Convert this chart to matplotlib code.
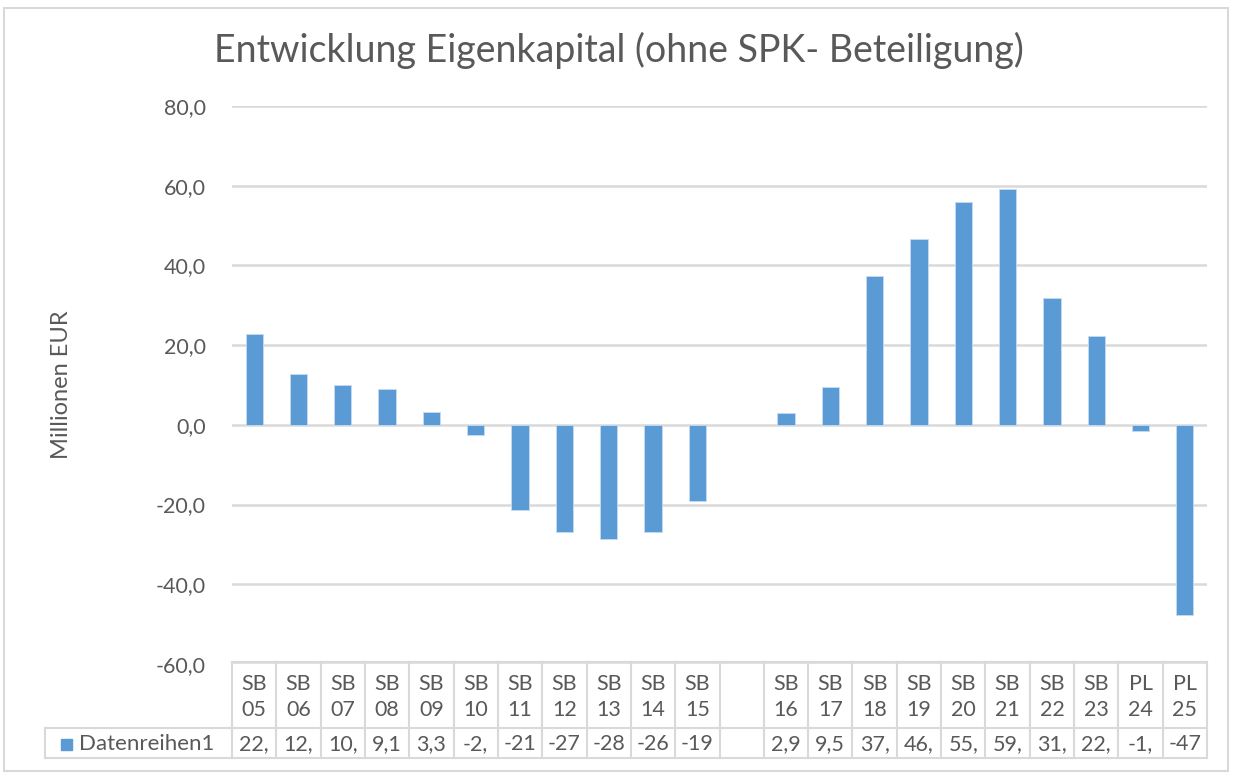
import numpy as np
import matplotlib
matplotlib.use("Agg")
import matplotlib.pyplot as plt
from matplotlib.transforms import blended_transform_factory
from matplotlib.patches import Rectangle

# ---- data ----
cat_top = ["SB", "SB", "SB", "SB", "SB", "SB", "SB", "SB", "SB", "SB", "SB", "",
           "SB", "SB", "SB", "SB", "SB", "SB", "SB", "SB", "PL", "PL"]
cat_bot = ["05", "06", "07", "08", "09", "10", "11", "12", "13", "14", "15", "",
           "16", "17", "18", "19", "20", "21", "22", "23", "24", "25"]
values = [22.9, 12.7, 10.1, 9.1, 3.3, -2.5, -21.3, -26.8, -28.7, -26.8, -19.2, np.nan,
          2.9, 9.5, 37.3, 46.7, 55.9, 59.2, 31.9, 22.3, -1.5, -47.6]
table_text = ["22,", "12,", "10,", "9,1", "3,3", "-2,", "-21", "-27", "-28", "-26", "-19", "",
              "2,9", "9,5", "37,", "46,", "55,", "59,", "31,", "22,", "-1,", "-47"]
series_name = "Datenreihen1"
yticks = [-60, -40, -20, 0, 20, 40, 60, 80]

W, H = 1233, 774
plt.rcParams['font.family'] = ['Lato', 'DejaVu Sans']
fig = plt.figure(figsize=(W / 100, H / 100), dpi=100)
txt = "#595959"
grid = "#d9d9d9"
blue = "#5b9bd5"

def fx(p): return p / W
def fy(p): return 1 - p / H

ax_l, ax_r, ax_t, ax_b = 232, 1207, 106, 664
ax = fig.add_axes([fx(ax_l), fy(ax_b), (ax_r - ax_l) / W, (ax_b - ax_t) / H])
n = len(values)
x = np.arange(n)
ax.set_xlim(-0.5, n - 0.5)
ax.set_ylim(-60, 80)
ax.set_yticks(yticks)
ax.set_yticklabels([f"{v:.1f}".replace(".", ",") for v in yticks], color=txt, fontsize=15.5)
ax.tick_params(axis='y', length=0, pad=19)
ax.set_xticks([])
for s in ax.spines.values():
    s.set_visible(False)
ax.yaxis.grid(True, color=grid, linewidth=1.8)
ax.set_axisbelow(True)
ax.bar(x, values, width=0.39, color=blue, edgecolor="#c5dcf0", linewidth=0.6, zorder=3)

# title and y label
fig.text(fx(619), fy(50), "Entwicklung Eigenkapital (ohne SPK- Beteiligung)",
         ha="center", va="center", fontsize=27, color=txt)
fig.text(fx(62), fy(385), "Millionen EUR", rotation=90, ha="center", va="center",
         fontsize=17, color=txt)

# data table
tr = blended_transform_factory(ax.transData, fig.transFigure)
y_head_top, y_mid, y_bot = fy(662), fy(728), fy(758)
lc = "#d9d9d9"
lw = 1.5
fig.add_artist(plt.Line2D([-0.5, n - 0.5], [y_head_top, y_head_top], transform=tr, color=lc, lw=lw))
fig.add_artist(plt.Line2D([fx(45), fx(ax_r)], [y_mid, y_mid], transform=fig.transFigure, color=lc, lw=lw))
fig.add_artist(plt.Line2D([fx(45), fx(ax_r)], [y_bot, y_bot], transform=fig.transFigure, color=lc, lw=lw))
fig.add_artist(plt.Line2D([fx(45), fx(45)], [y_mid, y_bot], transform=fig.transFigure, color=lc, lw=lw))
for b in np.arange(n + 1) - 0.5:
    fig.add_artist(plt.Line2D([b, b], [y_head_top, y_bot], transform=tr, color=lc, lw=lw))
for i in range(n):
    fig.text(x[i], fy(684), cat_top[i], transform=tr, ha="center", va="center", fontsize=15.5, color=txt)
    fig.text(x[i], fy(710), cat_bot[i], transform=tr, ha="center", va="center", fontsize=15.5, color=txt)
    fig.text(x[i], fy(744), table_text[i], transform=tr, ha="center", va="center", fontsize=15.5, color=txt)
fig.add_artist(Rectangle((fx(61), fy(750)), 11 / W, 11 / H, transform=fig.transFigure, color=blue))
fig.text(fx(79), fy(744), series_name, ha="left", va="center", fontsize=16, color=txt)

# chart border
fig.add_artist(Rectangle((fx(4), fy(771)), (1228 - 4) / W, (771 - 8) / H, transform=fig.transFigure,
                         fill=False, edgecolor="#d9d9d9", lw=1.5))

fig.savefig("out.png", dpi=100)
